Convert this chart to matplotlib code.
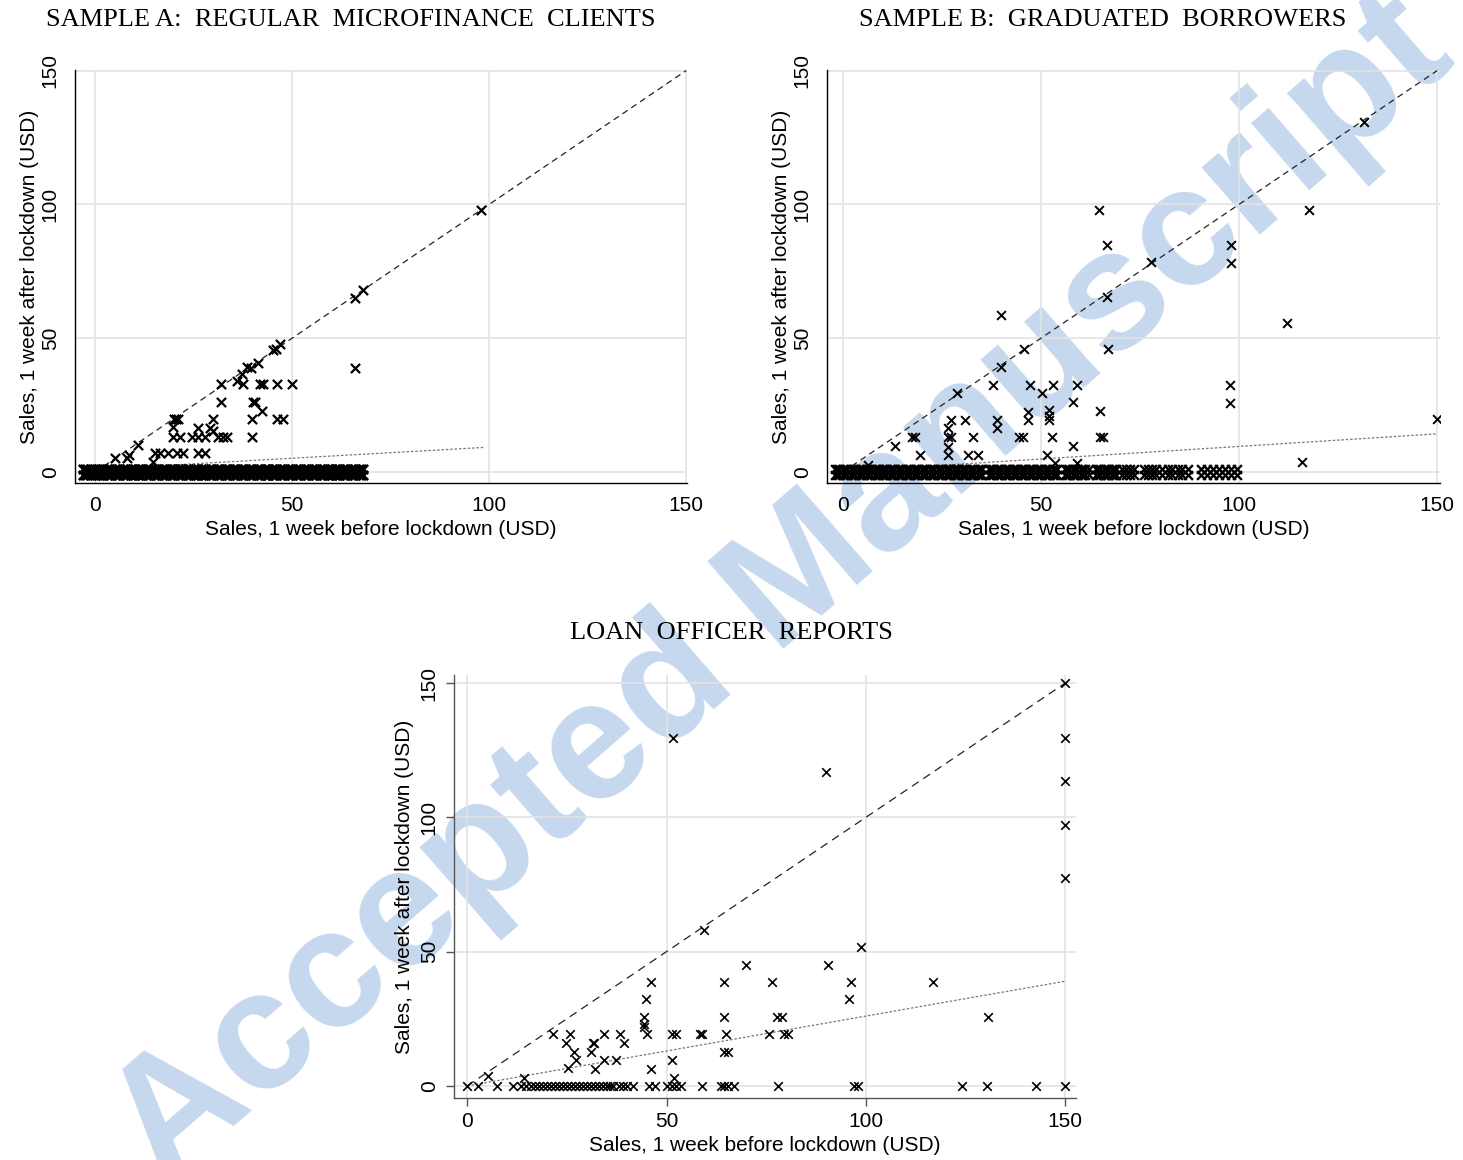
import numpy as np
import matplotlib.pyplot as plt

plt.rcParams['font.family'] = ['Liberation Sans', 'DejaVu Sans']

# ---- Sample A: regular microfinance clients (before, after) ----
a_x = [98, 66, 68, 66, 46, 47, 38.5, 37.2, 39.5, 41.4, 45.2, 36,
       32, 37.6, 41.9, 42.6, 46.1, 49.9, 32, 40, 42.3, 39.8, 46.1, 47.8, 30,
       39.8, 19.9, 20.5, 21, 19.8, 26.2, 29.2, 30, 19.8, 21.6, 24.5, 26.2,
       27.9, 31.3, 32.5, 33.4, 15.2, 16.5, 18.6, 20.7, 22.4, 26.2, 27.9,
       14.8, 5.1, 8, 8.5, 11, 40.5]
a_y = [98, 65, 68, 39, 46, 48, 39.3, 36.8, 39, 40.7, 45.5, 34,
       32.8, 32.8, 32.8, 32.8, 32.8, 32.8, 26.2, 26.2, 22.9, 19.7, 19.7, 19.7, 19.7,
       13.2, 19.7, 19.7, 19.7, 16.8, 16.3, 16.3, 15.5, 13.2, 13.2, 13.2, 13.2,
       13.2, 13.2, 13.2, 13.2, 7, 7, 7, 7, 7, 7, 7,
       3.9, 5.1, 5.1, 6.5, 10, 26]
a_zero_x = [-3, -2.5, -2, -1, 0, 0.5, 1, 1.5, 2, 3, 3.5, 4, 5, 5.5, 6, 7, 7.5,
            8, 9, 9.5, 10, 11, 11.5, 12, 13, 13.5, 14, 15, 15.5, 16, 17, 17.5,
            18, 19, 19.5, 20, 21, 21.5, 22, 23, 23.5, 24, 25, 25.5, 26, 27,
            27.5, 28, 29, 29.5, 30, 31, 31.5, 32, 33, 33.5, 34, 35, 35.5, 36,
            37, 37.5, 38, 39, 39.5, 40, 41, 41.5, 42, 43, 43.5, 44, 45, 45.5,
            46, 47, 47.5, 48, 49, 49.5, 50, 51, 51.5, 52, 53, 53.5, 54, 55,
            55.5, 56, 57, 57.5, 58, 59, 59.5, 60, 61, 61.5, 62, 63, 63.5, 64,
            65, 65.5, 66, 67, 67.5, 68]
a_fit = (1.0, 0.083)     # intercept, slope
a_fit_range = (-3, 99)

# ---- Sample B: graduated borrowers ----
b_x = [131.6, 64.6, 117.7, 66.7, 98, 98, 77.8, 66.7, 66.9, 39.9, 112, 45.7,
       40, 28.7, 38, 47.2, 53.1, 59, 97.7, 97.7, 58.2, 50.2, 64.9, 46.8, 46.8,
       51.9, 51.9, 51.9, 27.4, 30.8, 38.8, 38.8, 26.6, 26.6, 27.4, 18.2, 13.1,
       32.9, 45.5, 52.7, 65.7, 58.2, 19.4, 26.6, 26.6, 31.6, 34.2, 51.4, 53.5,
       59, 6.4, 115.9, 150, 44.5, 17.5, 65]
b_y = [130.6, 97.8, 97.8, 84.7, 84.7, 78, 78.4, 65.3, 45.9, 58.6, 55.6, 45.9,
       39.3, 29.4, 32.5, 32.5, 32.5, 32.5, 32.5, 25.9, 26.2, 29.4, 22.9, 22.5, 19.4,
       23, 21, 19.4, 19.4, 19.4, 19.4, 16.4, 16.3, 13.2, 13.2, 12.9, 9.7,
       12.9, 13.2, 12.9, 12.9, 9.7, 6.3, 9.3, 6.3, 6.3, 6.3, 6.3, 3.2,
       3.2, 2.6, 3.7, 19.8, 13.2, 12.9, 13.2]
b_zero_x = [-2, -1.5, -1, 0, 0.5, 1, 2, 2.5, 3, 4, 4.5, 5, 6, 6.5, 7, 8, 8.5,
            9, 10, 10.5, 11, 12, 12.5, 13, 14, 14.5, 15, 16, 16.5, 17, 18,
            18.5, 19, 20, 20.5, 21, 22, 22.5, 23, 24, 24.5, 25, 26, 26.5, 27,
            28, 28.5, 29, 30, 30.5, 31, 32, 32.5, 33, 34, 34.5, 35, 37, 37.5,
            38, 39, 39.5, 40, 41, 41.5, 42, 43, 43.5, 44, 45, 45.5, 46, 47,
            47.5, 48, 49, 49.5, 50, 51, 51.5, 52, 53, 53.5, 54, 56, 56.5, 57,
            58, 58.5, 59, 60, 60.5, 61, 62, 64, 64.5, 65, 66, 66.5, 67, 68,
            68.5, 69, 70.5, 71.5, 72.5, 73.5, 76, 77, 78, 79, 80.5, 82, 83,
            84.5, 85.5, 87, 90.5, 92, 93.5, 95, 96.5, 98, 99.5]
b_fit = (0.17, 0.094)
b_fit_range = (-2, 150)

# ---- Loan officer reports ----
c_x = [150, 150, 150, 150, 150, 51.6, 90, 59.4, 98.7, 69.9, 90.5, 46.1, 64.4,
       76.4, 96.2, 116.8, 44.9, 95.7, 44.4, 44.4, 64.4, 77.7, 79, 130.6, 45.1,
       51.5, 58.5, 64.9, 75.7, 79.4, 80.5, 64.5, 51.5, 21.5, 25.9, 34.2, 38.4,
       24.8, 31.9, 39.3, 26.9, 31.1, 27.3, 34.4, 37.3, 25.2, 32.1, 46.1, 5.2,
       14.2, 51.8, 44.4, 52.5, 59, 65.5, 31.5]
c_y = [150, 129.5, 113.4, 97, 77.6, 129.5, 116.8, 58.2, 51.9, 45.1, 45.1, 38.8,
       38.8, 38.8, 38.8, 38.8, 32.5, 32.5, 25.7, 23, 25.7, 25.7, 25.7, 25.7, 19.4,
       19.4, 19.4, 19.4, 19.4, 19.4, 19.4, 12.8, 9.7, 19.4, 19.4, 19.4, 19.4,
       15.9, 15.9, 15.9, 12.8, 12.8, 9.7, 9.7, 9.7, 6.6, 6.3, 6.3, 3.7,
       2.9, 2.9, 21.9, 19.4, 19.4, 12.8, 15.9]
c_zero_x = [0, 2.7, 7.5, 11.5, 13.5, 14.8, 16, 17, 18, 19, 20, 21, 22, 23, 24,
            25, 26, 27, 28, 29, 30, 31, 32, 33, 34, 35, 35.7, 36.5, 38, 39,
            40, 41.5, 45.6, 47, 50, 51.5, 52.5, 53.6, 59, 63.7, 64.5, 65.5,
            66.9, 78, 97, 98, 124, 130.3, 142.6, 150]
c_fit = (0.0, 0.26)
c_fit_range = (0, 150)

ticks = [0, 50, 100, 150]

fig = plt.figure(figsize=(14.63, 11.6), dpi=100)


def px_axes(l, t, r, b):
    return fig.add_axes([l / 1463, 1 - b / 1160, (r - l) / 1463, (b - t) / 1160])


def panel(ax, xs, ys, zx, fit, frange, xlim, ylim, spine_col, tick_len, ms, mlw,
          ypad, xpad, ylabpad, band, dash):
    ax.set_facecolor('none')
    ax.set_xlim(*xlim)
    ax.set_ylim(*ylim)
    ax.set_xticks(ticks)
    ax.set_yticks(ticks)
    ax.grid(True, color='#e3e3e3', lw=1.2, zorder=0)
    ax.set_axisbelow(True)
    for s in ['top', 'right']:
        ax.spines[s].set_visible(False)
    for s in ['left', 'bottom']:
        ax.spines[s].set_color(spine_col)
        ax.spines[s].set_linewidth(1.0)
    ax.tick_params(axis='both', length=tick_len, color=spine_col, labelsize=15,
                   width=1.0)
    ax.tick_params(axis='y', pad=ypad)
    ax.tick_params(axis='x', pad=xpad)
    for lab in ax.get_yticklabels():
        lab.set_rotation(90)
        lab.set_va('center')
    ax.plot([0, 150], [0, 150], ls=(0, dash), color='#222222', lw=0.9, zorder=2)
    fx = np.array(frange)
    ax.plot(fx, fit[0] + fit[1] * fx, ls=(0, (2, 1.5)), color='#777777', lw=0.9,
            zorder=2)
    ax.scatter(xs, ys, marker='x', s=ms, linewidths=mlw, color='black', zorder=3)
    if band:
        for yy in (1.2, -1.2):
            ax.scatter(zx, [yy] * len(zx), marker='x', s=ms, linewidths=mlw + 0.3,
                       color='black', zorder=3)
    else:
        ax.scatter(zx, [0] * len(zx), marker='x', s=ms, linewidths=mlw,
                   color='black', zorder=3, clip_on=False)
    ax.set_xlabel('Sales, 1 week before lockdown (USD)', fontsize=15, labelpad=4)
    ax.set_ylabel('Sales, 1 week after lockdown (USD)', fontsize=15,
                  labelpad=ylabpad)


axA = px_axes(75, 70, 687, 483)
panel(axA, a_x, a_y, a_zero_x, a_fit, a_fit_range, (-5.1, 150.2), (-4.1, 150.2),
      'black', 0, 44, 1.6, 11, 9, 1, True, (5, 3.5))

axB = px_axes(827, 70, 1440, 483)
panel(axB, b_x, b_y, b_zero_x, b_fit, b_fit_range, (-4.0, 150.7), (-4.1, 150.2),
      'black', 0, 40, 1.4, 11, 9, 1, True, (5, 3.5))

axC = px_axes(454, 675, 1076, 1098)
panel(axC, c_x, c_y, c_zero_x, c_fit, c_fit_range, (-3.3, 152.7), (-4.5, 153),
      '#555555', 6, 38, 1.2, 5, 4, 4, False, (6.5, 4.5))

title_kw = dict(fontsize=19, family=['Liberation Serif', 'DejaVu Serif'],
                ha='center', va='center')
fig.text(351 / 1463, 1 - 20 / 1160, 'SAMPLE A:  REGULAR  MICROFINANCE  CLIENTS', **title_kw)
fig.text(1103 / 1463, 1 - 20 / 1160, 'SAMPLE B:  GRADUATED  BORROWERS', **title_kw)
fig.text(731 / 1463, 1 - 633 / 1160, 'LOAN  OFFICER  REPORTS', **title_kw)

# watermark
fig.text(0.535, 0.49, 'Accepted Manuscript', fontsize=122, color='#c6d8ee',
         rotation=41, ha='center', va='center', weight='bold', zorder=-1,
         family=['Liberation Sans', 'DejaVu Sans'])

fig.savefig('out.png', dpi=100)
